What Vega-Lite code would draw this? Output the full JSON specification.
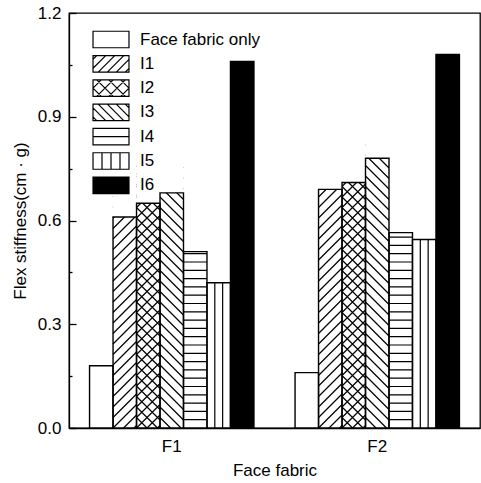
{
  "$schema": "https://vega.github.io/schema/vega-lite/v6.json",
  "width": 411,
  "height": 415,
  "autosize": "none",
  "padding": {"left": 69, "top": 13, "right": 1, "bottom": 55},
  "background": "white",
  "config": {
    "view": {"stroke": "black", "strokeWidth": 1.3},
    "font": "Liberation Sans",
    "axis": {
      "domainColor": "black", "domainWidth": 1.3,
      "tickColor": "black", "tickWidth": 1.3,
      "labelColor": "black", "titleColor": "black",
      "labelFont": "Liberation Sans", "titleFont": "Liberation Sans",
      "labelFontSize": 17, "titleFontSize": 17, "titleFontWeight": "normal",
      "grid": false
    }
  },
  "data": {
    "values": [
      {"fabric": "F1", "series": "Face fabric only", "value": 0.18},
      {"fabric": "F1", "series": "I1", "value": 0.61},
      {"fabric": "F1", "series": "I2", "value": 0.65},
      {"fabric": "F1", "series": "I3", "value": 0.68},
      {"fabric": "F1", "series": "I4", "value": 0.51},
      {"fabric": "F1", "series": "I5", "value": 0.42},
      {"fabric": "F1", "series": "I6", "value": 1.06},
      {"fabric": "F2", "series": "Face fabric only", "value": 0.16},
      {"fabric": "F2", "series": "I1", "value": 0.69},
      {"fabric": "F2", "series": "I2", "value": 0.71},
      {"fabric": "F2", "series": "I3", "value": 0.78},
      {"fabric": "F2", "series": "I4", "value": 0.565},
      {"fabric": "F2", "series": "I5", "value": 0.545},
      {"fabric": "F2", "series": "I6", "value": 1.08}
    ]
  },
  "encoding": {
    "x": {
      "field": "fabric", "type": "nominal",
      "scale": {"paddingInner": 0.2, "paddingOuter": 0.1},
      "axis": {"title": "Face fabric", "labelAngle": 0, "ticks": false, "labelPadding": 10, "titleY": 47, "titleBaseline": "alphabetic"}
    },
    "xOffset": {
      "field": "series", "type": "nominal",
      "scale": {"domain": ["Face fabric only", "I1", "I2", "I3", "I4", "I5", "I6"]}
    },
    "y": {
      "field": "value", "type": "quantitative",
      "scale": {"domain": [0, 1.2], "nice": false},
      "axis": {
        "title": "Flex stiffness(cm · g)",
        "titleX": -44, "titleY": 207.5, "titleBaseline": "alphabetic",
        "values": [0, 0.15, 0.3, 0.45, 0.6, 0.75, 0.9, 1.05, 1.2],
        "format": ".1f",
        "labelExpr": "round(datum.value * 100) % 30 === 0 ? datum.label : ''",
        "tickSize": {"condition": {"test": "round(datum.value * 100) % 30 !== 0", "value": -3}, "value": -7},
        "labelPadding": 15,
        "labelOverlap": false
      }
    }
  },
  "layer": [
    {
      "mark": {"type": "bar"},
      "encoding": {
        "fill": {"condition": {"test": "datum.series === 'I6'", "value": "black"}, "value": "white"}
      }
    },
    {
      "transform": [{"filter": "datum.series === 'I1'"}],
      "mark": {
        "type": "point", "size": 4, "filled": false, "stroke": "black", "strokeWidth": 1.2, "opacity": 1,
        "shape": "M9.25,0L11.75,-2.5M-1.25,0L11.75,-13M-11.75,0l23.5,-23.5M-11.75,-10.5l23.5,-23.5M-11.75,-21l23.5,-23.5M-11.75,-31.5l23.5,-23.5M-11.75,-42l23.5,-23.5M-11.75,-52.5l23.5,-23.5M-11.75,-63l23.5,-23.5M-11.75,-73.5l23.5,-23.5M-11.75,-84l23.5,-23.5M-11.75,-94.5l23.5,-23.5M-11.75,-105l23.5,-23.5M-11.75,-115.5l23.5,-23.5M-11.75,-126l23.5,-23.5M-11.75,-136.5l23.5,-23.5M-11.75,-147l23.5,-23.5M-11.75,-157.5l23.5,-23.5M-11.75,-168l23.5,-23.5M-11.75,-178.5l23.5,-23.5M-11.75,-189l23.5,-23.5M-11.75,-199.5l23.5,-23.5M-11.75,-210l23.5,-23.5M-11.75,-220.5l23.5,-23.5M-11.75,-231l23.5,-23.5"
      },
      "encoding": {"y": {"datum": 0, "type": "quantitative"}}
    },
    {
      "transform": [{"filter": "datum.series === 'I2'"}],
      "mark": {
        "type": "point", "size": 4, "filled": false, "stroke": "black", "strokeWidth": 1.2, "opacity": 1,
        "shape": "M9.25,0L11.75,-2.5M-1.25,0L11.75,-13M-11.75,0l23.5,-23.5M-11.75,-10.5l23.5,-23.5M-11.75,-21l23.5,-23.5M-11.75,-31.5l23.5,-23.5M-11.75,-42l23.5,-23.5M-11.75,-52.5l23.5,-23.5M-11.75,-63l23.5,-23.5M-11.75,-73.5l23.5,-23.5M-11.75,-84l23.5,-23.5M-11.75,-94.5l23.5,-23.5M-11.75,-105l23.5,-23.5M-11.75,-115.5l23.5,-23.5M-11.75,-126l23.5,-23.5M-11.75,-136.5l23.5,-23.5M-11.75,-147l23.5,-23.5M-11.75,-157.5l23.5,-23.5M-11.75,-168l23.5,-23.5M-11.75,-178.5l23.5,-23.5M-11.75,-189l23.5,-23.5M-11.75,-199.5l23.5,-23.5M-11.75,-210l23.5,-23.5M-11.75,-220.5l23.5,-23.5M-11.75,-231l23.5,-23.5M-11.75,-241.5l23.5,-23.5M-11.75,-10.5L-1.25,0M-11.75,-21L9.25,0M-11.75,-31.5l23.5,23.5M-11.75,-42l23.5,23.5M-11.75,-52.5l23.5,23.5M-11.75,-63l23.5,23.5M-11.75,-73.5l23.5,23.5M-11.75,-84l23.5,23.5M-11.75,-94.5l23.5,23.5M-11.75,-105l23.5,23.5M-11.75,-115.5l23.5,23.5M-11.75,-126l23.5,23.5M-11.75,-136.5l23.5,23.5M-11.75,-147l23.5,23.5M-11.75,-157.5l23.5,23.5M-11.75,-168l23.5,23.5M-11.75,-178.5l23.5,23.5M-11.75,-189l23.5,23.5M-11.75,-199.5l23.5,23.5M-11.75,-210l23.5,23.5M-11.75,-220.5l23.5,23.5M-11.75,-231l23.5,23.5M-11.75,-241.5l23.5,23.5M-11.75,-252l23.5,23.5M-11.75,-262.5l23.5,23.5"
      },
      "encoding": {"y": {"datum": 0, "type": "quantitative"}}
    },
    {
      "transform": [{"filter": "datum.series === 'I3'"}],
      "mark": {
        "type": "point", "size": 4, "filled": false, "stroke": "black", "strokeWidth": 1.2, "opacity": 1,
        "shape": "M-11.75,-10.5L-1.25,0M-11.75,-21L9.25,0M-11.75,-31.5l23.5,23.5M-11.75,-42l23.5,23.5M-11.75,-52.5l23.5,23.5M-11.75,-63l23.5,23.5M-11.75,-73.5l23.5,23.5M-11.75,-84l23.5,23.5M-11.75,-94.5l23.5,23.5M-11.75,-105l23.5,23.5M-11.75,-115.5l23.5,23.5M-11.75,-126l23.5,23.5M-11.75,-136.5l23.5,23.5M-11.75,-147l23.5,23.5M-11.75,-157.5l23.5,23.5M-11.75,-168l23.5,23.5M-11.75,-178.5l23.5,23.5M-11.75,-189l23.5,23.5M-11.75,-199.5l23.5,23.5M-11.75,-210l23.5,23.5M-11.75,-220.5l23.5,23.5M-11.75,-231l23.5,23.5M-11.75,-241.5l23.5,23.5M-11.75,-252l23.5,23.5M-11.75,-262.5l23.5,23.5M-11.75,-273l23.5,23.5M-11.75,-283.5l23.5,23.5"
      },
      "encoding": {"y": {"datum": 0, "type": "quantitative"}}
    },
    {
      "transform": [{"filter": "datum.series === 'I4'"}],
      "mark": {
        "type": "point", "size": 4, "filled": false, "stroke": "black", "strokeWidth": 1.2, "opacity": 1,
        "shape": "M-11.75,-8.3h23.5M-11.75,-16.6h23.5M-11.75,-24.9h23.5M-11.75,-33.2h23.5M-11.75,-41.5h23.5M-11.75,-49.8h23.5M-11.75,-58.1h23.5M-11.75,-66.4h23.5M-11.75,-74.7h23.5M-11.75,-83h23.5M-11.75,-91.3h23.5M-11.75,-99.6h23.5M-11.75,-107.9h23.5M-11.75,-116.2h23.5M-11.75,-124.5h23.5M-11.75,-132.8h23.5M-11.75,-141.1h23.5M-11.75,-149.4h23.5M-11.75,-157.7h23.5M-11.75,-166h23.5M-11.75,-174.3h23.5M-11.75,-182.6h23.5M-11.75,-190.9h23.5"
      },
      "encoding": {"y": {"datum": 0, "type": "quantitative"}}
    },
    {
      "transform": [{"filter": "datum.series === 'I5'"}],
      "mark": {
        "type": "point", "size": 4, "filled": false, "stroke": "black", "strokeWidth": 1.2, "opacity": 1,
        "shape": "M-3.92,0V-200M3.92,0V-200"
      },
      "encoding": {"y": {"datum": 0, "type": "quantitative"}}
    },
    {
      "transform": [{"filter": "datum.series !== 'I6' && datum.series !== 'Face fabric only'"}],
      "mark": {"type": "bar", "fill": "white"},
      "encoding": {"y2": {"datum": 1.1}}
    },
    {
      "mark": {"type": "bar", "fillOpacity": 0, "stroke": "black", "strokeWidth": 1.4}
    },
    {
      "mark": {"type": "point", "filled": true, "opacity": 0},
      "encoding": {
        "y": {"datum": 0, "type": "quantitative"},
        "shape": {
          "field": "series", "type": "nominal",
          "scale": {
            "domain": ["Face fabric only", "I1", "I2", "I3", "I4", "I5", "I6"],
            "range": [
              "M-2.18,-1H2.18V1H-2.18Z",
              "M-2.18,-1H2.18V1H-2.18ZM-2.18,-0.55L-1.73,-1M-2.18,0.54L-0.64,-1M-1.55,1L0.45,-1M-0.45,1L1.55,-1M0.64,1L2.18,-0.54M1.73,1L2.18,0.55",
              "M-2.18,-1H2.18V1H-2.18ZM-2.18,0L-1.18,-1M-1.73,1L0.27,-1M-0.27,1L1.73,-1M1.18,1L2.18,0M-2.18,0L-1.18,1M-1.73,-1L0.27,1M-0.27,-1L1.73,1M1.18,-1L2.18,0",
              "M-2.18,-1H2.18V1H-2.18ZM-2.18,0.55L-1.73,1M-2.18,-0.54L-0.64,1M-1.55,-1L0.45,1M-0.45,-1L1.55,1M0.64,-1L2.18,0.54M1.73,-1L2.18,-0.55",
              "M-2.18,-1H2.18V1H-2.18ZM-2.18,0H2.18",
              "M-2.18,-1H2.18V1H-2.18ZM-1.09,-1V1M0,-1V1M1.09,-1V1",
              "M-2.18,-1H2.18V1H-2.18Z"
            ]
          },
          "legend": {
            "title": null, "orient": "none", "legendX": 33, "legendY": 17.5, "padding": 0,
            "labelFont": "Liberation Sans", "labelFontSize": 17, "labelColor": "black", "labelOffset": 20, "labelLimit": 300,
            "symbolSize": 272.25, "symbolStrokeColor": "black", "symbolStrokeWidth": 1.2, "symbolOpacity": 1,
            "rowPadding": 2.3,
            "encode": {"symbols": {"update": {"stroke": {"value": "black"}, "strokeWidth": {"value": 1.2}, "opacity": {"value": 1}}}}
          }
        },
        "fill": {
          "field": "series", "type": "nominal",
          "scale": {
            "domain": ["Face fabric only", "I1", "I2", "I3", "I4", "I5", "I6"],
            "range": ["white", "white", "white", "white", "white", "white", "black"]
          },
          "legend": {
            "title": null, "orient": "none", "legendX": 33, "legendY": 17.5, "padding": 0,
            "labelFont": "Liberation Sans", "labelFontSize": 17, "labelColor": "black", "labelOffset": 20, "labelLimit": 300,
            "symbolSize": 272.25, "symbolStrokeColor": "black", "symbolStrokeWidth": 1.2, "symbolOpacity": 1,
            "rowPadding": 2.3,
            "encode": {"symbols": {"update": {"stroke": {"value": "black"}, "strokeWidth": {"value": 1.2}, "opacity": {"value": 1}}}}
          }
        }
      }
    }
  ]
}
